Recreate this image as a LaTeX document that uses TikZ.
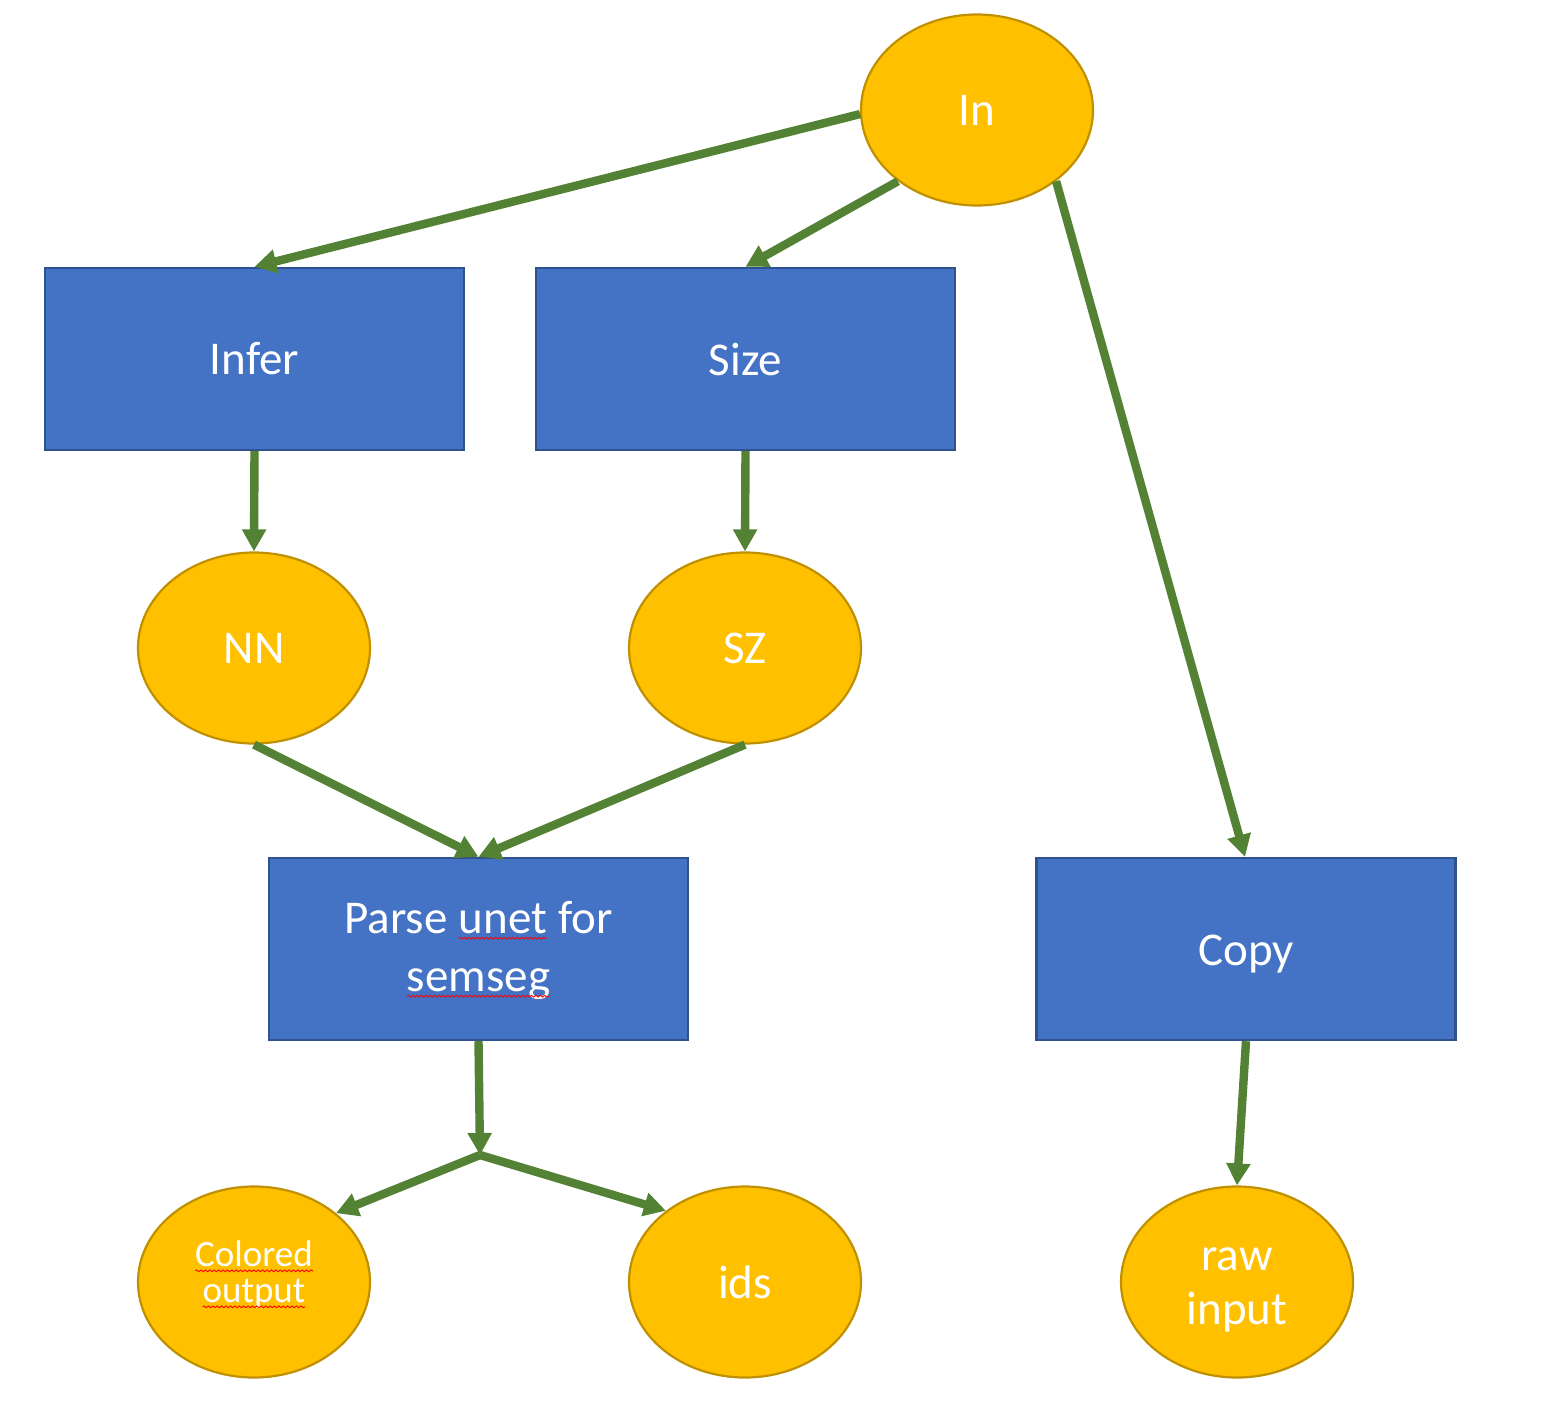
\documentclass[tikz,border=0pt]{standalone}
\usepackage{fontspec}
\setmainfont{Carlito}
\usetikzlibrary{arrows.meta,shapes.geometric,decorations.pathmorphing}
\definecolor{boxfill}{HTML}{4472C4}
\definecolor{boxline}{HTML}{2F528F}
\definecolor{ovalfill}{HTML}{FFC000}
\definecolor{ovalline}{HTML}{BF9000}
\definecolor{flow}{HTML}{548235}
% red wavy underline for spell-flagged words
\newcommand\spellwave[1]{\tikz[baseline=(w.base), x=1pt, y=1pt]{%
  \node[draw=none, fill=none, shape=rectangle, minimum width=0pt,
    minimum height=0pt, inner sep=0pt, outer sep=0pt, text=white] (w) {#1};
  \draw[red, line width=0.45pt, decorate,
    decoration={snake, amplitude=0.45pt, segment length=2.2pt}]
    ([yshift=-2.2pt]w.base west) -- ([yshift=-2.2pt]w.base east);}}
% shift a label vertically without changing its box
\newcommand\nudge[2]{\raisebox{#1}[\height][\depth]{#2}}
\begin{document}
\begin{tikzpicture}[x=0.5pt,y=-0.5pt,
  stepbox/.style={draw=boxline, line width=1.2pt, fill=boxfill, rectangle,
    minimum width=209.5pt, minimum height=91pt, inner sep=0pt, text=white,
    font=\fontsize{23.5}{29.5}\selectfont, align=center},
  oval/.style={draw=ovalline, line width=1.1pt, fill=ovalfill, ellipse,
    minimum width=116pt, minimum height=95.5pt, inner sep=0pt, text=white,
    font=\fontsize{23.5}{27.5}\selectfont, align=center},
  flowarrow/.style={draw=flow, line width=4.2pt,
    -{Triangle[length=11pt,width=11.5pt]}}]
\useasboundingbox (0,0) rectangle (1552,1419);

% process boxes
\node[stepbox] (infer) at (254.5,359) {Infer};
\node[stepbox] (size)  at (745.5,359) {Size};
\node[stepbox] (parse) at (478.5,949) {\nudge{-1pt}{\begin{tabular}{@{}c@{}}Parse \spellwave{unet} for\\[-0.5pt]\spellwave{semseg}\end{tabular}}};
\node[stepbox] (copy)  at (1246,949) {\nudge{-2.5pt}{Copy}};

% data ovals
\node[oval] (in)  at (977,110)  {In};
\node[oval] (nn)  at (254,648)  {NN};
\node[oval] (sz)  at (745,648)  {SZ};
\node[oval, font=\fontsize{18.5}{18.5}\selectfont] (col) at (254,1282)
  {\nudge{2.5pt}{\begin{tabular}{@{}c@{}}\spellwave{Colored}\\[-0.5pt]\spellwave{output}\end{tabular}}};
\node[oval] (ids) at (745,1282) {ids};
\node[oval] (raw) at (1237,1282) {\nudge{-2pt}{\begin{tabular}{@{}c@{}}raw\\[-0.5pt]input\end{tabular}}};

\coordinate (split) at (480,1155);

% connectors
\draw[flowarrow] (in.182) -- (infer.north);
\draw[flowarrow] (in.222) -- (size.north);
\draw[flowarrow] (in.-42) -- ([xshift=-0.5pt]copy.north);
\draw[flowarrow] (infer.south) -- (nn.north);
\draw[flowarrow] (size.south) -- (sz.north);
\draw[flowarrow] (nn.south) -- (parse.north);
\draw[flowarrow] (sz.south) -- (parse.north);
\draw[flowarrow] (parse.south) -- (split);
\draw[flowarrow] (split) -- (col.40);
\draw[flowarrow] (split) -- (ids.138);
\draw[flowarrow] (copy.south) -- (raw.north);
\end{tikzpicture}
\end{document}
